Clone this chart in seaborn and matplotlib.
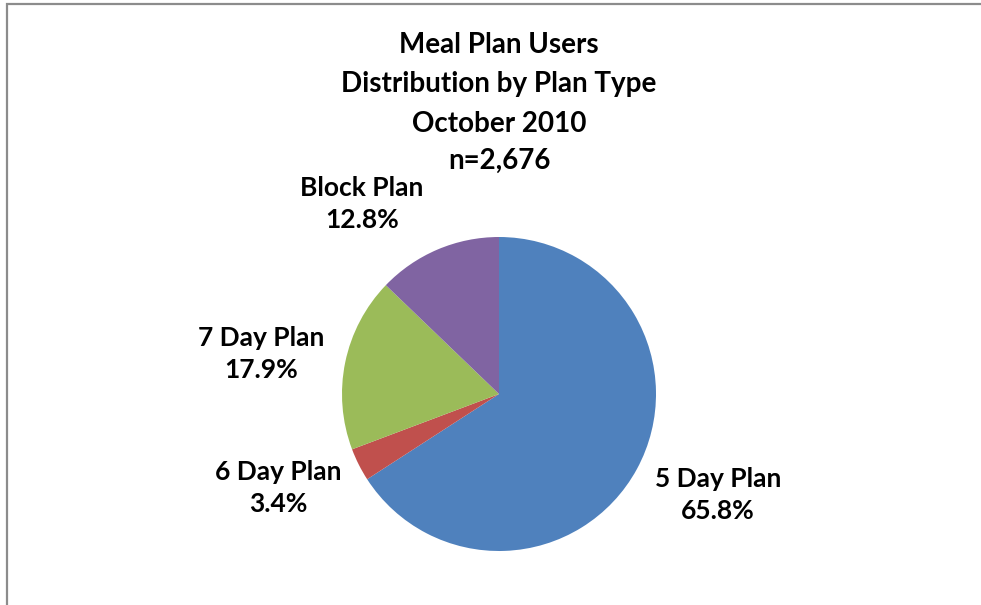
import matplotlib

matplotlib.use("Agg")

import matplotlib.pyplot as plt
from matplotlib.patches import Rectangle
import seaborn as sns

plans = ["5 Day Plan", "6 Day Plan", "7 Day Plan", "Block Plan"]
shares = [65.8, 3.4, 17.9, 12.8]
colors = ["#4F81BD", "#C0504D", "#9BBB59", "#8064A2"]
title_lines = ["Meal Plan Users", "Distribution by Plan Type", "October 2010", "n=2,676"]

# label centres in pie-radius units (Excel placed them by hand)
label_xy = [(1.395, -0.645), (-1.408, -0.600), (-1.516, 0.255), (-0.873, 1.21)]

sns.set_style("white")
plt.rcParams["font.family"] = ["Lato", "DejaVu Sans"]
plt.rcParams["text.color"] = "black"

W, H = 981, 605
fig = plt.figure(figsize=(W / 100, H / 100), dpi=100)
cx, cy, r = 499, 394, 157
ax = fig.add_axes([(cx - r) / W, (H - cy - r) / H, 2 * r / W, 2 * r / H])
ax.pie(
    shares,
    colors=colors,
    startangle=90,
    counterclock=False,
    wedgeprops={"linewidth": 0},
)
ax.set_xlim(-1, 1)
ax.set_ylim(-1, 1)
ax.set_aspect("equal")
ax.axis("off")

for name, val, (lx, ly) in zip(plans, shares, label_xy):
    ax.text(lx, ly, f"{name}\n{val:.1f}%", ha="center", va="center",
            fontsize=19, fontweight="bold", linespacing=1.4)

for i, line in enumerate(title_lines):
    y = [45, 84, 124, 161][i]
    fig.text(499 / W, 1 - y / H, line, ha="center", va="center",
             fontsize=20, fontweight="bold")

fig.patches.append(Rectangle((6.5 / W, -0.1), 1.2, 1 - 3.5 / H + 0.1,
                             transform=fig.transFigure, fill=False,
                             edgecolor="#8c8c8c", linewidth=1.6))

fig.savefig("out.png", dpi=100, facecolor="white")
